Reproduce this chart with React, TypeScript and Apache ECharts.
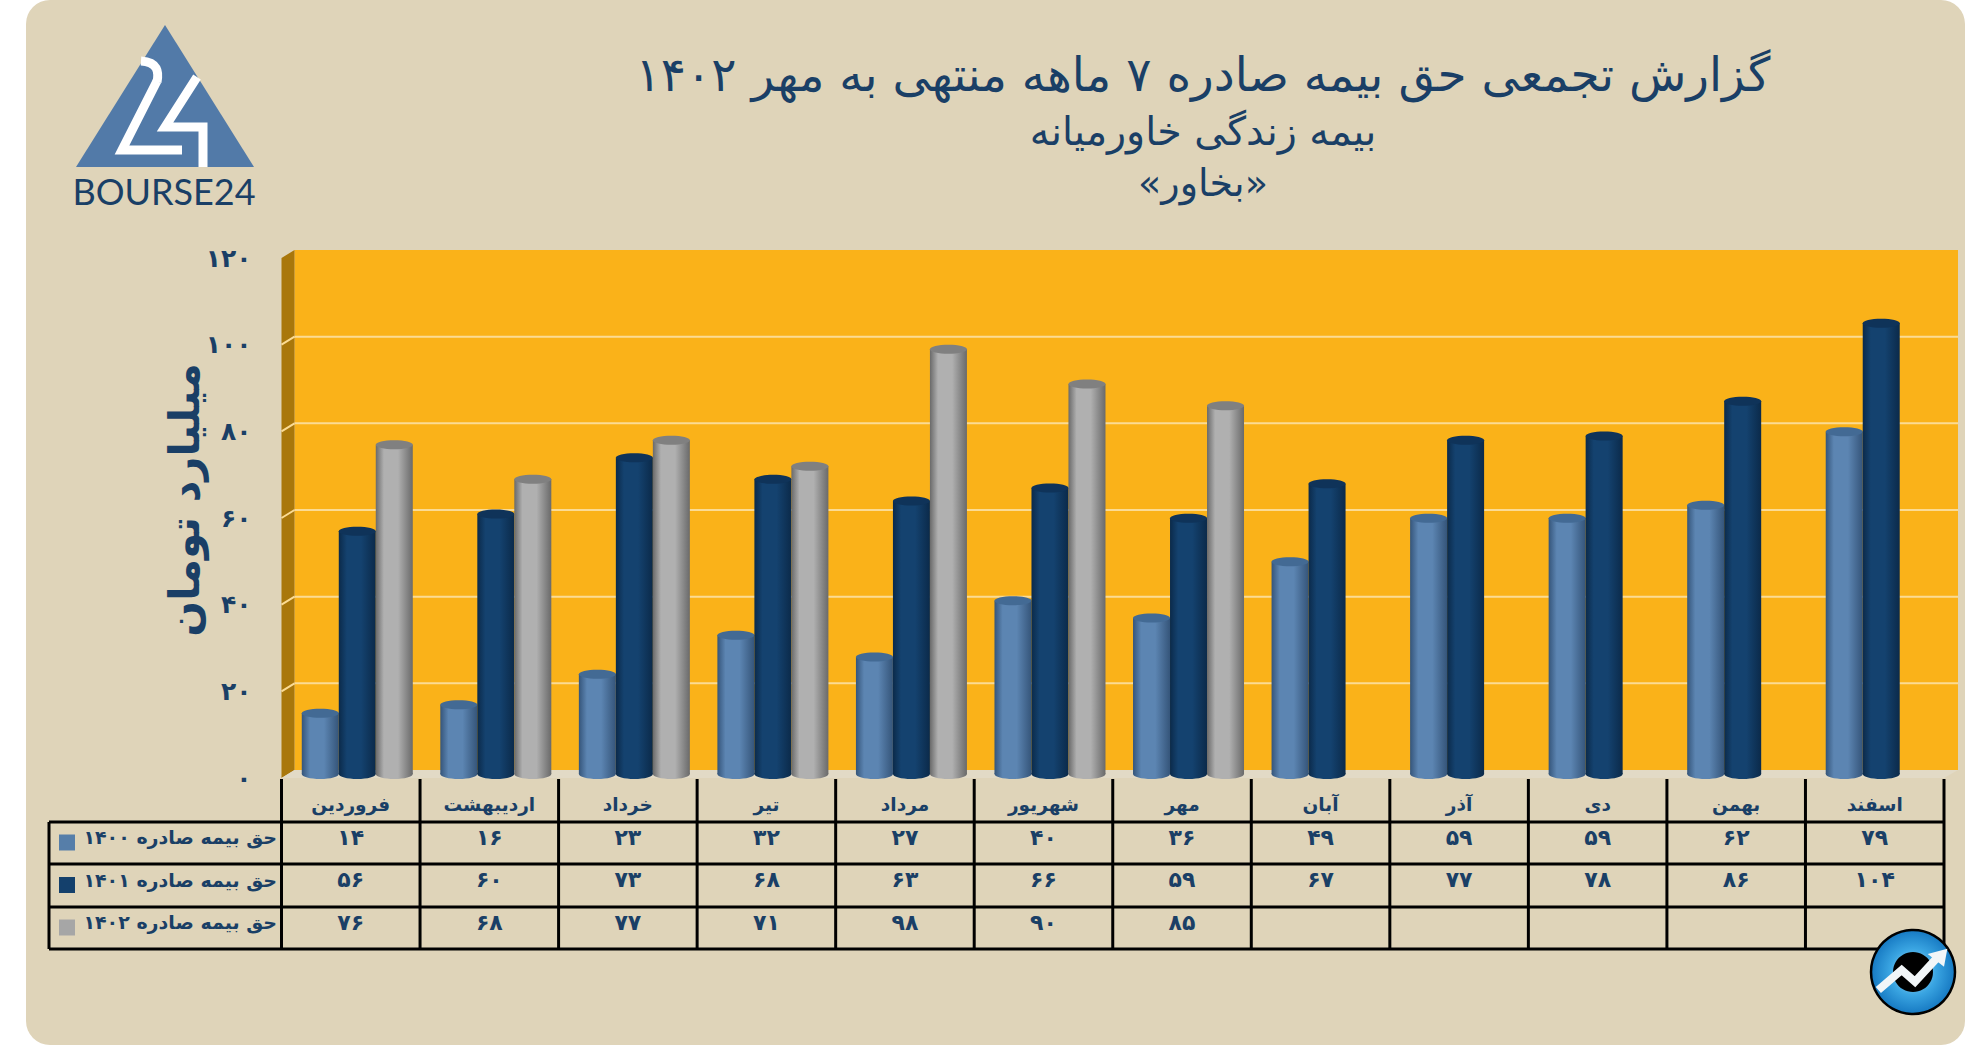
import React, { useEffect, useRef } from "react";
import * as echarts from "echarts";

const months = ["فروردین", "اردیبهشت", "خرداد", "تیر", "مرداد", "شهریور", "مهر", "آبان", "آذر", "دی", "بهمن", "اسفند"];
const values1400 = [14, 16, 23, 32, 27, 40, 36, 49, 59, 59, 62, 79];
const values1401 = [56, 60, 73, 68, 63, 66, 59, 67, 77, 78, 86, 104];
const values1402 = [76, 68, 77, 71, 98, 90, 85];
const yTicks = [0, 20, 40, 60, 80, 100, 120];
const rowLabels = ["حق بیمه صادره ۱۴۰۰", "حق بیمه صادره ۱۴۰۱", "حق بیمه صادره ۱۴۰۲"];
const titleLines = ["گزارش تجمعی حق بیمه صادره ۷ ماهه منتهی به مهر ۱۴۰۲", "بیمه زندگی خاورمیانه", "«بخاور»"];
const unitLabel = "میلیارد تومان";
const logoText = "BOURSE24";

const NAVY = "#1a3f66";
const FONT = "'DejaVu Sans', sans-serif";
const GRID = { left: 281.5, right: 42, top: 258, bottom: 267 };
const DEPTH_X = 13;
const DEPTH_Y = -8;
const BAR_W = 37;
const TABLE_Y = [779, 822, 864, 907, 949];
const TABLE_LEFT = 49;

const fa = (n: number) => String(n).replace(/\d/g, (d) => "۰۱۲۳۴۵۶۷۸۹"[Number(d)]);

const SERIES = [
  { name: rowLabels[0], data: values1400, edge: "#35557a", mid: "#5c85b2", cap: "#436a94", slot: -1, row: 0, swatch: "#567ea9" },
  { name: rowLabels[1], data: values1401, edge: "#0b2a4a", mid: "#14426f", cap: "#0f3359", slot: 0, row: 1, swatch: "#14406c" },
  { name: rowLabels[2], data: values1402, edge: "#6a6a6a", mid: "#b0b0b0", cap: "#808080", slot: 1, row: 2, swatch: "#a6a6a6" },
];

function cylinderSeries(s: (typeof SERIES)[number]) {
  return {
    type: "custom",
    name: s.name,
    z: 5,
    data: s.data.map((v, i) => [i, v]),
    encode: { x: 0, y: 1 },
    renderItem: (_p: any, api: any) => {
      const cat = api.value(0);
      const val = api.value(1);
      const top = api.coord([cat, val]);
      const base = api.coord([cat, 0]);
      const cx = base[0] + DEPTH_X / 2 + s.slot * BAR_W;
      const yTop = top[1] + DEPTH_Y / 2;
      const yBase = base[1] + DEPTH_Y / 2;
      const x0 = cx - BAR_W / 2;
      const makeGrad = () =>
        new echarts.graphic.LinearGradient(0, 0, 1, 0, [
          { offset: 0, color: s.edge },
          { offset: 0.22, color: s.mid },
          { offset: 0.6, color: s.mid },
          { offset: 1, color: s.edge },
        ]);
      const rowY = (TABLE_Y[s.row + 1] + TABLE_Y[s.row + 2]) / 2 - 6;
      return {
        type: "group",
        children: [
          { type: "ellipse", shape: { cx, cy: yBase, rx: BAR_W / 2, ry: 5 }, style: { fill: makeGrad() } },
          { type: "rect", shape: { x: x0, y: yTop, width: BAR_W, height: yBase - yTop }, style: { fill: makeGrad() } },
          { type: "ellipse", shape: { cx, cy: yTop, rx: BAR_W / 2, ry: 4.5 }, style: { fill: s.cap } },
          {
            type: "text",
            x: base[0],
            y: rowY,
            style: { text: fa(val), fill: NAVY, font: `bold 22px ${FONT}`, align: "center", verticalAlign: "middle" },
          },
        ],
      };
    },
  };
}

const wallSeries = {
  type: "custom",
  name: "wall",
  z: 1,
  silent: true,
  data: [[0, 0]],
  encode: { x: 0, y: 1 },
  renderItem: (p: any) => {
    const { x, y, width: w, height: h } = p.coordSys;
    return {
      type: "group",
      children: [
        { type: "rect", shape: { x: x + DEPTH_X, y: y + DEPTH_Y, width: w + 1, height: h }, style: { fill: "#fab219" } },
        {
          type: "polygon",
          shape: { points: [[x, y], [x + DEPTH_X, y + DEPTH_Y], [x + DEPTH_X, y + h + DEPTH_Y], [x, y + h]] },
          style: { fill: "#a9770b" },
        },
        {
          type: "polygon",
          shape: { points: [[x, y + h], [x + DEPTH_X, y + h + DEPTH_Y], [x + w + DEPTH_X + 1, y + h + DEPTH_Y], [x + w, y + h]] },
          style: { fill: "#e2dac6" },
        },
      ],
    };
  },
};

const gridLineSeries = {
  type: "custom",
  name: "gridlines",
  z: 2,
  silent: true,
  data: yTicks.filter((t) => t > 0 && t < 120).map((t) => [0, t]),
  encode: { x: 0, y: 1 },
  renderItem: (p: any, api: any) => {
    const { x, width: w } = p.coordSys;
    const yy = api.coord([0, api.value(1)])[1];
    const lineStyle = { stroke: "#fbdb94", lineWidth: 2 };
    return {
      type: "group",
      children: [
        { type: "line", shape: { x1: x, y1: yy, x2: x + DEPTH_X, y2: yy + DEPTH_Y }, style: lineStyle },
        { type: "line", shape: { x1: x + DEPTH_X, y1: yy + DEPTH_Y, x2: x + w + DEPTH_X + 1, y2: yy + DEPTH_Y }, style: lineStyle },
      ],
    };
  },
};

const tableSeries = {
  type: "custom",
  name: "table",
  z: 3,
  silent: true,
  data: [[0, 0]],
  encode: { x: 0, y: 1 },
  renderItem: (p: any) => {
    const { x, width: w } = p.coordSys;
    const step = w / months.length;
    const lineStyle = { stroke: "#000", lineWidth: 3 };
    const children: any[] = [];
    for (let i = 1; i < TABLE_Y.length; i++) {
      children.push({ type: "line", shape: { x1: TABLE_LEFT, y1: TABLE_Y[i], x2: x + w, y2: TABLE_Y[i] }, style: lineStyle });
    }
    children.push({ type: "line", shape: { x1: TABLE_LEFT, y1: TABLE_Y[1], x2: TABLE_LEFT, y2: TABLE_Y[4] }, style: lineStyle });
    for (let i = 0; i <= months.length; i++) {
      children.push({ type: "line", shape: { x1: x + i * step, y1: TABLE_Y[0], x2: x + i * step, y2: TABLE_Y[4] }, style: lineStyle });
    }
    SERIES.forEach((s, r) => {
      const c = (TABLE_Y[r + 1] + TABLE_Y[r + 2]) / 2;
      children.push({ type: "rect", shape: { x: 59, y: c - 1.5 - 7, width: 16, height: 16 }, style: { fill: s.swatch } });
      children.push({
        type: "text",
        x: 277,
        y: c - 6,
        style: { text: rowLabels[r], fill: NAVY, font: `bold 19px ${FONT}`, align: "right", verticalAlign: "middle" },
      });
    });
    return { type: "group", children };
  },
};

function logoGraphics() {
  const white = { stroke: "#fff", lineWidth: 9, fill: "none", lineJoin: "miter" };
  return [
    { type: "polygon", shape: { points: [[165, 25], [254, 167], [76, 167]] }, style: { fill: "#527aa8" } },
    { type: "bezierCurve", shape: { x1: 141, y1: 61, cpx1: 158, cpy1: 62, cpx2: 159, cpy2: 72, x2: 157, y2: 82 }, style: { ...white, fill: undefined } },
    { type: "polyline", shape: { points: [[157, 81], [122, 150], [182, 150]] }, style: white },
    { type: "polyline", shape: { points: [[197, 77], [165, 127], [203, 127], [203, 167]] }, style: white },
    {
      type: "text",
      x: 164,
      y: 191,
      style: { text: logoText, fill: NAVY, font: "36px Lato, sans-serif", align: "center", verticalAlign: "middle" },
    },
  ];
}

function badgeGraphics() {
  const px = (a: number) => 1600 + a / 3;
  const py = (b: number) => 680 + b / 3;
  return [
    {
      type: "circle",
      shape: { cx: 1913, cy: 972, r: 42 },
      style: {
        fill: new echarts.graphic.RadialGradient(0.5, 0.5, 0.5, [
          { offset: 0, color: "#bfe6f7" },
          { offset: 0.55, color: "#3aa5e2" },
          { offset: 1, color: "#1679c2" },
        ]),
        stroke: "#000",
        lineWidth: 2.5,
      },
    },
    { type: "circle", shape: { cx: 1913, cy: 972, r: 20 }, style: { fill: "#000" } },
    {
      type: "polyline",
      shape: { points: [[px(835), py(930)], [px(905), py(870)], [px(945), py(905)], [px(1010), py(835)]] },
      style: { stroke: "#f2f6f8", lineWidth: 8, fill: "none" },
    },
    {
      type: "polygon",
      shape: { points: [[px(1042), py(806)], [px(983), py(822)], [px(1032), py(860)]] },
      style: { fill: "#f2f6f8" },
    },
  ];
}

const option = {
  animation: false,
  backgroundColor: "#ffffff",
  grid: { ...GRID },
  xAxis: {
    type: "category",
    data: months,
    axisLine: { show: false },
    axisTick: { show: false },
    splitLine: { show: false },
    axisLabel: {
      interval: 0,
      margin: 26,
      verticalAlign: "middle",
      color: NAVY,
      fontFamily: FONT,
      fontWeight: "bold",
      fontSize: 18.5,
    },
  },
  yAxis: {
    type: "value",
    min: 0,
    max: 120,
    interval: 20,
    axisLine: { show: false },
    axisTick: { show: false },
    splitLine: { show: false },
    axisLabel: {
      margin: 30,
      color: NAVY,
      fontFamily: FONT,
      fontWeight: "bold",
      fontSize: 25,
      formatter: (v: number) => fa(v),
    },
  },
  graphic: [
    {
      type: "rect",
      z: -10,
      shape: { x: 26, y: 0, width: 1939, height: 1045, r: 24 },
      style: { fill: "#dfd4b9" },
    },
    ...logoGraphics().map((g) => ({ ...g, z: 10 })),
    {
      type: "text",
      z: 10,
      x: 1203,
      y: 74,
      style: { text: titleLines[0], fill: NAVY, font: `47px ${FONT}`, align: "center", verticalAlign: "middle" },
    },
    {
      type: "text",
      z: 10,
      x: 1203,
      y: 131,
      style: { text: titleLines[1], fill: NAVY, font: `39.5px ${FONT}`, align: "center", verticalAlign: "middle" },
    },
    {
      type: "text",
      z: 10,
      x: 1203,
      y: 183,
      style: { text: titleLines[2], fill: NAVY, font: `38px ${FONT}`, align: "center", verticalAlign: "middle" },
    },
    {
      type: "text",
      z: 10,
      x: 184,
      y: 500,
      rotation: Math.PI / 2,
      style: { text: unitLabel, fill: NAVY, font: `bold 42px ${FONT}`, align: "center", verticalAlign: "middle" },
    },
    ...badgeGraphics().map((g) => ({ ...g, z: 20 })),
  ],
  series: [wallSeries, gridLineSeries, tableSeries, ...SERIES.map(cylinderSeries)],
};

export default function App() {
  const ref = useRef<HTMLDivElement>(null);
  useEffect(() => {
    document.body.style.margin = "0";
    const chart = echarts.init(ref.current!, undefined, { renderer: "svg" });
    chart.setOption(option as any);
    return () => chart.dispose();
  }, []);
  return <div ref={ref} style={{ position: "absolute", left: 0, top: 0, width: 1986, height: 1045 }} />;
}
